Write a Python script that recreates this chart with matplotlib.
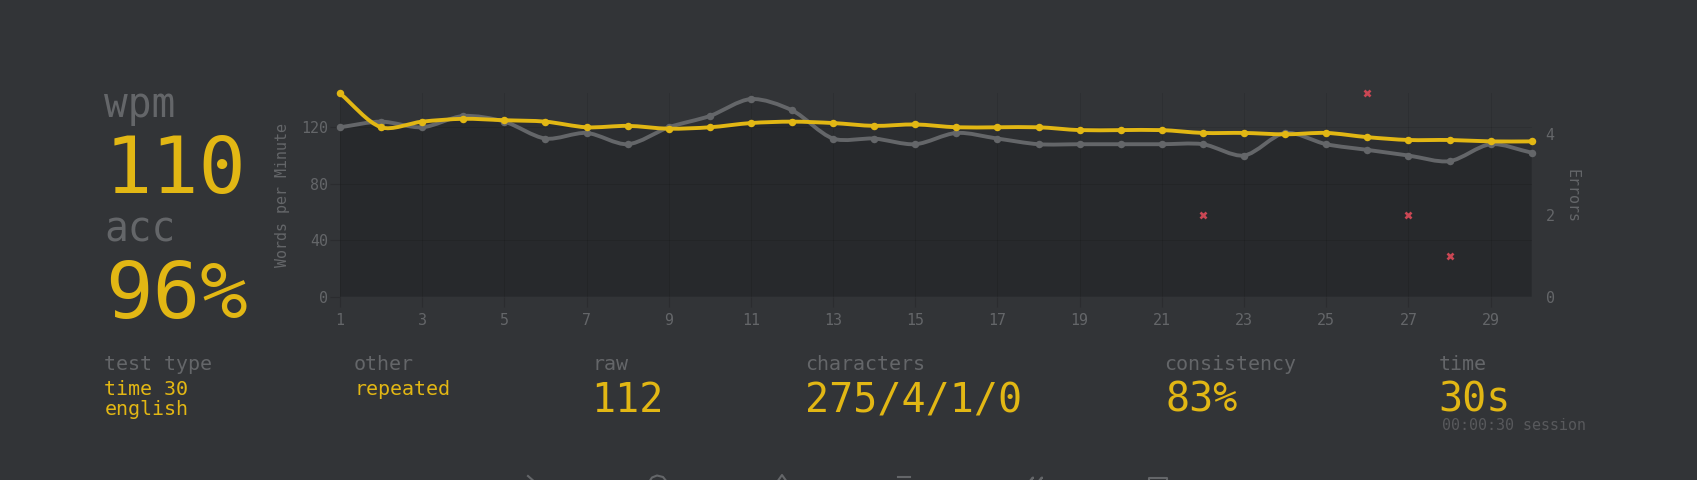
import numpy as np
import matplotlib
matplotlib.use("Agg")
import matplotlib.pyplot as plt
from matplotlib.path import Path
from matplotlib.patches import PathPatch
from matplotlib.lines import Line2D
from matplotlib.transforms import Affine2D

W, H = 1697, 480
BG = "#323437"
MAIN = "#e2b714"
SUB = "#646669"
ERR = "#ca4754"
MONO = "DejaVu Sans Mono"

seconds = list(range(1, 31))
wpm = [144, 120, 124, 126, 125, 124, 120, 121, 119, 120, 123, 124, 123, 121, 122,
       120, 120, 120, 118, 118, 118, 116, 116, 115, 116, 113, 111, 111, 110, 110]
raw = [120, 124, 120, 128, 124, 112, 116, 108, 120, 128, 140, 132, 112, 112, 108,
       116, 112, 108, 108, 108, 108, 108, 100, 116, 108, 104, 100, 96, 108, 102]
error_seconds = [22, 26, 27, 28]
error_counts = [2, 5, 2, 1]
x_ticks = list(range(1, 30, 2))
wpm_ticks = [0, 40, 80, 120]
err_ticks = [0, 2, 4]

fig = plt.figure(figsize=(W / 100, H / 100), dpi=100, facecolor=BG)
L, R, T, B = 340.0, 1531.7, 93.4, 296.7
ax = fig.add_axes([L / W, 1 - B / H, (R - L) / W, (B - T) / H])
ax.set_facecolor("none")
ax.set_xlim(1, 30)
ax.set_ylim(0, 144)
ax2 = ax.twinx()
ax2.set_ylim(0, 5)
ax2.set_facecolor("none")

for a in (ax, ax2):
    for s in a.spines.values():
        s.set_visible(False)

TICK = "#2b2c2f"
ax.set_xticks(x_ticks)
ax.set_yticks(wpm_ticks)
ax2.set_yticks(err_ticks)
ax.grid(True, color="black", alpha=0.09, linewidth=0.75)
ax.set_axisbelow(True)
ax.tick_params(axis="x", length=7.2, width=0.75, color=TICK, pad=4.5,
               labelcolor=SUB, labelsize=10.8)
ax.tick_params(axis="y", length=7.2, width=0.75, color=TICK, pad=1.5,
               labelcolor=SUB, labelsize=10.8)
ax2.tick_params(axis="y", length=0, pad=10, labelcolor=SUB, labelsize=10.8)
for lab in ax.get_xticklabels() + ax.get_yticklabels() + ax2.get_yticklabels():
    lab.set_family(MONO)


def spline_path(xs, ys, tension=0.3):
    """Chart.js style bezier through the data points, in data coordinates."""
    pts = ax.transData.transform(np.column_stack([xs, ys]))
    n = len(pts)
    verts = [pts[0]]
    codes = [Path.MOVETO]
    before, after = [None] * n, [None] * n
    for i in range(n):
        prev = pts[max(i - 1, 0)]
        cur = pts[i]
        nxt = pts[min(i + 1, n - 1)]
        d01 = np.hypot(*(cur - prev))
        d12 = np.hypot(*(nxt - cur))
        tot = d01 + d12
        s01 = d01 / tot
        s12 = d12 / tot
        before[i] = cur - tension * s01 * (nxt - prev)
        after[i] = cur + tension * s12 * (nxt - prev)
    for i in range(n - 1):
        verts += [after[i], before[i + 1], pts[i + 1]]
        codes += [Path.CURVE4] * 3
    inv = ax.transData.inverted()
    return inv.transform(np.array(verts)), codes


def draw_series(ys, color, lw, ms, z):
    verts, codes = spline_path(seconds, ys)
    # fill under the curve
    fill_v = np.vstack([verts, [[seconds[-1], 0], [seconds[0], 0], [seconds[0], ys[0]]]])
    fill_c = codes + [Path.LINETO, Path.LINETO, Path.LINETO]
    ax.add_patch(PathPatch(Path(fill_v, fill_c), facecolor=(0, 0, 0, 0.1),
                           edgecolor="none", zorder=1))
    ax.add_patch(PathPatch(Path(verts, codes), facecolor="none", edgecolor=color,
                           linewidth=lw, zorder=z, clip_on=False, capstyle="round"))
    ax.plot(seconds, ys, linestyle="none", marker="o", ms=ms, mfc=color, mec=color,
            mew=0, zorder=z + 0.1, clip_on=False)


draw_series(raw, SUB, 2.8, 5.4, 3)
draw_series(wpm, MAIN, 2.8, 5.4, 4)

ax2.plot(error_seconds, error_counts, linestyle="none", marker="x", ms=4.4, mew=1.9,
         color=ERR, clip_on=False, zorder=6)

px = Affine2D().scale(1, -1).translate(0, H)


def label(x, y, s, size_px, color):
    fig.text(x, y, s, transform=px, fontsize=size_px * 0.72, color=color,
             family=MONO, va="baseline", ha="left")


fig.text(282, 195, "Words per Minute", transform=px, fontsize=10.8, color=SUB, family=MONO,
         rotation=90, ha="center", va="center")
fig.text(1572, 196, "Errors", transform=px, fontsize=10.8, color=SUB, family=MONO,
         rotation=270, ha="center", va="center")

label(104, 117, "wpm", 39.5, SUB)
label(105, 193, "110", 78.5, MAIN)
label(104, 241.5, "acc", 39.5, SUB)
label(105, 318, "96%", 79, MAIN)

label(104.5, 370, "test type", 20, SUB)
label(104.5, 395, "time 30", 20, MAIN)
label(104.5, 415, "english", 20, MAIN)
label(354, 370, "other", 20, SUB)
label(354, 395, "repeated", 20, MAIN)
label(593, 370, "raw", 20, SUB)
label(591, 412, "112", 40, MAIN)
label(805.5, 370, "characters", 20, SUB)
label(805, 412, "275/4/1/0", 40, MAIN)
label(1164, 370, "consistency", 20, SUB)
label(1165, 412, "83%", 40, MAIN)
label(1439, 370, "time", 20, SUB)
label(1438, 412, "30s", 40, MAIN)
label(1442, 430, "00:00:30 session", 15, "#58595c")

# tops of the toolbar icons cut off by the bottom edge
ICON = "#646669"
icons = [
    ([528, 536], [476, 483]),
    ([649, 652, 657, 663, 667], [482, 477.5, 475.5, 477, 482]),
    ([777, 782, 787], [482, 475, 482]),
    ([898, 910], [476.8, 476.8]),
    ([1028, 1033, 1029], [483, 477.5, 483]),
    ([1037, 1042, 1038], [483, 477.5, 483]),
    ([1148.5, 1148.5, 1166.5, 1166.5], [483, 477.8, 477.8, 483]),
]
for xs, ys in icons:
    fig.add_artist(Line2D(xs, ys, transform=px, color=ICON, lw=1.5))

fig.savefig("out.png", dpi=100, facecolor=BG)
